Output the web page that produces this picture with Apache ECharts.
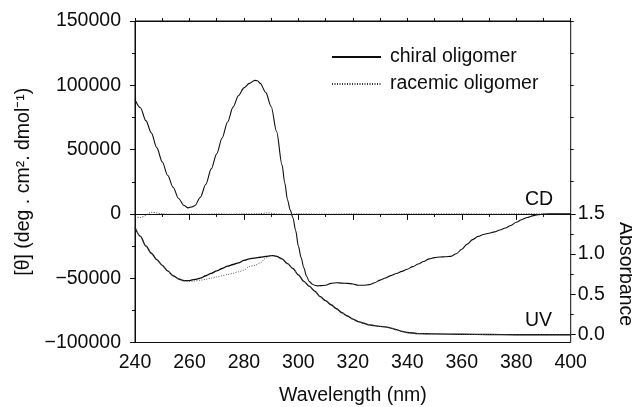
<!DOCTYPE html>
<html>
<head>
<meta charset="utf-8">
<script src="https://cdn.jsdelivr.net/npm/echarts@6/dist/echarts.min.js"></script>
<style>
  html, body { margin: 0; padding: 0; background: #fff; }
  #chart { width: 632px; height: 407px; }
</style>
</head>
<body>
<div id="chart"></div>
<script>
// CD spectrum, chiral oligomer (wavelength nm / [θ])
const cdChiralWl = [240, 242, 244, 246, 248, 250, 252, 254, 256, 258, 259.5, 261, 262, 264, 266, 268, 270, 272, 274, 276, 278, 280, 282, 284, 285, 286, 288, 290, 292, 294, 295, 296, 297, 298, 299, 300, 301, 302, 303, 304, 305, 306, 307, 308, 310, 312, 314, 316, 318, 320, 322, 324, 326, 328, 330, 332, 334, 336, 338, 340, 342, 344, 346, 348, 350, 352, 354, 356, 358, 360, 362, 364, 366, 368, 370, 372, 374, 376, 378, 380, 382, 384, 386, 388, 390, 392, 396, 400];
const cdChiral = [89000, 82500, 72500, 63000, 51500, 40500, 30000, 20700, 12000, 6500, 4700, 5500, 6500, 13000, 23000, 35000, 46700, 59000, 71500, 83000, 92000, 98000, 101500, 103800, 103500, 101500, 94500, 83500, 64000, 38000, 24000, 11000, 3000, -3000, -13000, -25000, -34000, -42000, -48500, -52500, -54500, -55500, -56000, -55800, -55500, -54000, -53500, -53800, -54000, -54500, -55500, -55500, -55000, -53500, -51500, -49800, -48000, -46300, -44700, -43000, -41000, -39000, -37000, -35000, -34000, -33500, -33300, -33000, -31000, -27500, -23500, -20000, -17500, -16000, -15000, -14000, -12500, -11000, -9000, -6500, -4500, -2800, -1500, -700, -200, 0, 0, 0];

// CD spectrum, racemic oligomer
const cdRacemicWl = [240, 242, 244, 246, 248, 250, 255, 260, 265, 270, 275, 280, 285, 289, 292, 296, 300, 310, 320, 330, 340, 350, 360, 370, 380, 390, 400];
const cdRacemic = [-2500, -2800, -1000, 1200, 800, 0, -300, 0, -300, 0, -200, 0, 100, 700, 0, -300, 0, -200, 0, -200, 0, 0, 0, -100, 0, 0, 0];

// UV absorbance, chiral oligomer
const uvChiralWl = [240, 242, 244, 246, 248, 250, 252, 254, 256, 258, 260, 262, 264, 266, 268, 270, 272, 274, 276, 278, 280, 282, 284, 286, 288, 290, 291, 292, 294, 296, 298, 300, 302, 304, 306, 308, 310, 312, 314, 316, 318, 320, 322, 324, 326, 328, 330, 332, 334, 336, 338, 340, 344, 350, 360, 370, 380, 390, 400];
const uvChiral = [1.33, 1.22, 1.10, 1.01, 0.93, 0.86, 0.79, 0.73, 0.69, 0.67, 0.67, 0.685, 0.70, 0.73, 0.76, 0.79, 0.82, 0.85, 0.87, 0.89, 0.92, 0.94, 0.95, 0.96, 0.97, 0.98, 0.98, 0.97, 0.94, 0.88, 0.82, 0.74, 0.66, 0.60, 0.54, 0.47, 0.42, 0.37, 0.32, 0.27, 0.23, 0.19, 0.16, 0.14, 0.12, 0.11, 0.10, 0.095, 0.08, 0.06, 0.04, 0.025, 0.012, 0.007, 0.003, 0.0, -0.003, -0.003, -0.003];

// UV absorbance, racemic oligomer
const uvRacemicWl = [240, 242, 244, 246, 248, 250, 252, 254, 256, 258, 260, 262, 264, 266, 268, 270, 272, 274, 276, 278, 280, 282, 284, 286, 288, 289, 290, 292, 294, 296, 298, 300, 302, 304, 306, 308, 310, 312, 314, 316, 318, 320, 322, 324, 326, 328, 330, 332, 334, 336, 338, 340, 344, 350, 360, 370, 380, 390, 400];
const uvRacemic = [1.33, 1.22, 1.10, 1.01, 0.93, 0.86, 0.79, 0.73, 0.69, 0.665, 0.66, 0.665, 0.675, 0.685, 0.70, 0.715, 0.73, 0.745, 0.76, 0.78, 0.80, 0.845, 0.86, 0.89, 0.95, 0.97, 0.98, 0.975, 0.94, 0.88, 0.82, 0.74, 0.66, 0.60, 0.54, 0.47, 0.42, 0.37, 0.32, 0.27, 0.23, 0.19, 0.16, 0.14, 0.12, 0.11, 0.10, 0.095, 0.08, 0.06, 0.04, 0.025, 0.012, 0.006, 0.002, -0.001, -0.004, -0.004, -0.004];

const seriesNames = ["chiral oligomer", "racemic oligomer"];

const font = "Liberation Sans, Arial, Helvetica, sans-serif";
const fs = 19.5;
const ink = "#0d0d0d";

function pairs(xs, ys) {
  return xs.map((x, i) => [x, ys[i]]);
}

const chart = echarts.init(document.getElementById("chart"), null, { renderer: "canvas" });

const hiddenX = (grid) => ({ type: "value", gridIndex: grid, min: 240, max: 400, show: false });

const option = {
  animation: false,
  backgroundColor: "#fff",
  textStyle: { fontFamily: font, color: ink },
  grid: [
    // main frame
    { left: 135, right: 61.3, top: 21, bottom: 64.5, show: true, borderColor: ink, borderWidth: 1, outerBoundsMode: "none", containLabel: false },
    // upper part: right-side ticks mirrored from the left axis
    { left: 135, right: 61.3, top: 21, height: 192.8, outerBoundsMode: "none", containLabel: false },
    // lower part: absorbance scale
    { left: 135, right: 61.3, top: 213.8, height: 120.7, outerBoundsMode: "none", containLabel: false },
  ],
  legend: {
    orient: "vertical",
    left: 326,
    top: 42,
    itemWidth: 49,
    itemHeight: 14,
    itemGap: 7,
    data: seriesNames,
    itemStyle: { opacity: 0, borderWidth: 0 },
    textStyle: { fontFamily: font, fontSize: fs, color: ink, padding: [0, 0, 0, 4] },
  },
  xAxis: [
    {
      type: "value",
      gridIndex: 0,
      min: 240,
      max: 400,
      interval: 20,
      name: "Wavelength (nm)",
      nameLocation: "middle",
      nameGap: 43,
      nameTextStyle: { fontFamily: font, fontSize: fs, color: ink },
      axisLine: { show: true, lineStyle: { color: ink, width: 1 } },
      axisTick: { show: true, length: 6, lineStyle: { color: ink } },
      minorTick: { show: true, splitNumber: 2, length: 3, lineStyle: { color: ink } },
      splitLine: { show: false },
      axisLabel: { fontFamily: font, fontSize: fs, color: ink, margin: 10 },
    },
    {
      type: "value",
      gridIndex: 0,
      position: "top",
      min: 240,
      max: 400,
      interval: 10,
      axisLine: { show: true, lineStyle: { color: ink, width: 1 } },
      axisTick: { show: true, length: 3, lineStyle: { color: ink } },
      axisLabel: { show: false },
      splitLine: { show: false },
    },
    hiddenX(1),
    hiddenX(2),
  ],
  yAxis: [
    {
      type: "value",
      gridIndex: 0,
      min: -100000,
      max: 150000,
      interval: 50000,
      name: "[θ] (deg . cm². dmol⁻¹)",
      nameLocation: "middle",
      nameRotate: 90,
      nameGap: 96,
      nameTextStyle: { fontFamily: font, fontSize: fs, color: ink },
      axisLine: { show: true, lineStyle: { color: ink, width: 1 } },
      axisTick: { show: true, length: 5, lineStyle: { color: ink } },
      minorTick: { show: true, splitNumber: 2, length: 3, lineStyle: { color: ink } },
      splitLine: { show: false },
      axisLabel: {
        fontFamily: font,
        fontSize: fs,
        color: ink,
        margin: 14,
        formatter: (v) => (v < 0 ? "\u2212" + Math.abs(v) : String(v)),
      },
    },
    {
      type: "value",
      gridIndex: 1,
      position: "right",
      min: 0,
      max: 150000,
      interval: 50000,
      axisLine: { show: false },
      axisTick: { show: true, length: 3, lineStyle: { color: ink } },
      minorTick: { show: true, splitNumber: 2, length: 3, lineStyle: { color: ink } },
      axisLabel: { show: false },
      splitLine: { show: false },
    },
    {
      type: "value",
      gridIndex: 2,
      position: "right",
      min: 0,
      max: 1.5,
      interval: 0.5,
      name: "Absorbance",
      nameLocation: "middle",
      nameRotate: -90,
      nameGap: 45,
      nameTextStyle: { fontFamily: font, fontSize: fs, color: ink },
      axisLine: { show: false },
      axisTick: { show: true, length: 5, lineStyle: { color: ink } },
      minorTick: { show: true, splitNumber: 2, length: 3, lineStyle: { color: ink } },
      splitLine: { show: false },
      axisLabel: {
        fontFamily: font,
        fontSize: fs,
        color: ink,
        margin: 7,
        formatter: (v) => v.toFixed(1),
      },
    },
  ],
  graphic: [
    { type: "text", left: 525, top: 190, style: { text: "CD", font: fs + "px " + font, fill: ink } },
    { type: "text", left: 525, top: 311, style: { text: "UV", font: fs + "px " + font, fill: ink } },
  ],
  series: [
    {
      name: seriesNames[0],
      type: "line",
      xAxisIndex: 0,
      yAxisIndex: 0,
      data: pairs(cdChiralWl, cdChiral),
      symbol: "none",
      smooth: 0.3,
      smoothMonotone: "x",
      lineStyle: { color: ink, width: 1.1 },
      itemStyle: { color: ink },
    },
    {
      name: seriesNames[1],
      type: "line",
      xAxisIndex: 0,
      yAxisIndex: 0,
      data: pairs(cdRacemicWl, cdRacemic),
      symbol: "none",
      smooth: 0.3,
      lineStyle: { color: "#333", width: 1, type: [1, 1.5] },
      itemStyle: { color: "#333" },
    },
    {
      name: seriesNames[0],
      type: "line",
      xAxisIndex: 3,
      yAxisIndex: 2,
      data: pairs(uvChiralWl, uvChiral),
      symbol: "none",
      smooth: 0.3,
      smoothMonotone: "x",
      clip: false,
      lineStyle: { color: ink, width: 1.3 },
      itemStyle: { color: ink },
    },
    {
      name: seriesNames[1],
      type: "line",
      xAxisIndex: 3,
      yAxisIndex: 2,
      data: pairs(uvRacemicWl, uvRacemic),
      symbol: "none",
      smooth: 0.3,
      smoothMonotone: "x",
      clip: false,
      lineStyle: { color: "#555", width: 1, type: [1, 1.5] },
      itemStyle: { color: "#555" },
    },
  ],
};

chart.setOption(option);
window.addEventListener("resize", () => chart.resize());
</script>
</body>
</html>
